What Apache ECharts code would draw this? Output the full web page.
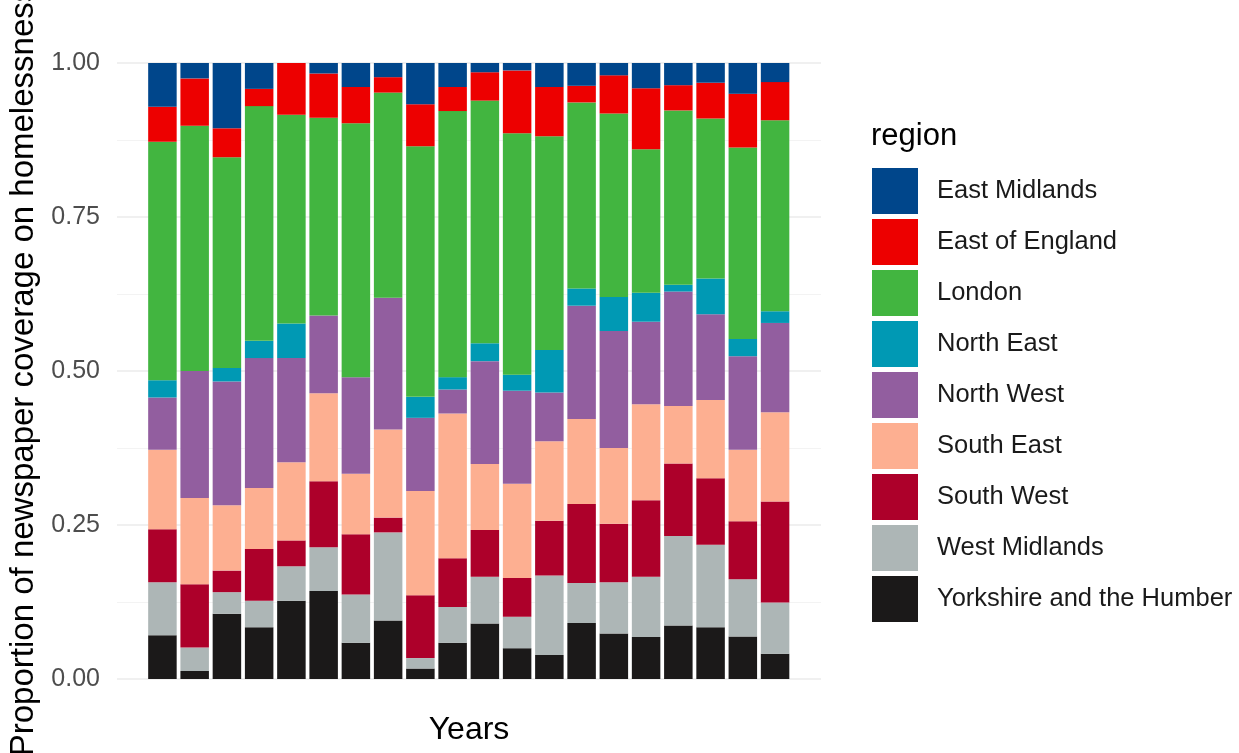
<!DOCTYPE html>
<html>
<head>
<meta charset="utf-8">
<script src="https://cdn.jsdelivr.net/npm/echarts@6/dist/echarts.min.js"></script>
<style>
html,body{margin:0;padding:0;background:#fff;}
#chart{width:1239px;height:753px;}
</style>
</head>
<body>
<div id="chart"></div>
<script>
// the 20 (unlabelled) year bars
const years = ["1","2","3","4","5","6","7","8","9","10","11","12","13","14","15","16","17","18","19","20"];

// proportions per region (bottom of stack first)
const yorkshire      = [0.071,0.013,0.106,0.084,0.127,0.143,0.059,0.095,0.017,0.059,0.090,0.050,0.039,0.091,0.074,0.068,0.087,0.084,0.069,0.041];
const westMidlands   = [0.086,0.038,0.035,0.043,0.056,0.071,0.078,0.143,0.017,0.058,0.076,0.051,0.129,0.065,0.083,0.098,0.145,0.134,0.093,0.083];
const southWest      = [0.086,0.103,0.035,0.084,0.042,0.107,0.098,0.024,0.102,0.079,0.076,0.063,0.089,0.128,0.095,0.124,0.118,0.108,0.094,0.164];
const southEast      = [0.129,0.140,0.106,0.099,0.127,0.143,0.098,0.143,0.169,0.235,0.107,0.153,0.129,0.138,0.123,0.156,0.093,0.127,0.116,0.145];
const northWest      = [0.085,0.206,0.201,0.211,0.169,0.126,0.157,0.214,0.119,0.039,0.167,0.151,0.079,0.184,0.190,0.134,0.186,0.139,0.152,0.145];
const northEast      = [0.028,0.000,0.022,0.028,0.056,0.000,0.000,0.000,0.034,0.020,0.029,0.026,0.069,0.028,0.055,0.047,0.011,0.058,0.028,0.019];
const london         = [0.387,0.398,0.342,0.381,0.339,0.321,0.412,0.333,0.407,0.432,0.394,0.392,0.347,0.302,0.298,0.233,0.283,0.260,0.311,0.310];
const eastOfEngland  = [0.057,0.077,0.047,0.028,0.084,0.072,0.059,0.025,0.068,0.039,0.046,0.102,0.080,0.027,0.062,0.099,0.041,0.058,0.087,0.062];
const eastMidlands   = [0.071,0.025,0.106,0.042,0.000,0.017,0.039,0.023,0.067,0.039,0.015,0.012,0.039,0.037,0.020,0.041,0.036,0.032,0.050,0.031];

const regionNames = ["East Midlands","East of England","London","North East","North West","South East","South West","West Midlands","Yorkshire and the Humber"];
const yTicks = [0, 0.25, 0.5, 0.75, 1];

const stackOrder = [
  ["Yorkshire and the Humber", yorkshire, "#1B1919"],
  ["West Midlands", westMidlands, "#ADB6B6"],
  ["South West", southWest, "#AD002A"],
  ["South East", southEast, "#FDAF91"],
  ["North West", northWest, "#925E9F"],
  ["North East", northEast, "#0099B4"],
  ["London", london, "#42B540"],
  ["East of England", eastOfEngland, "#ED0000"],
  ["East Midlands", eastMidlands, "#00468B"]
];

const FONT = "'Liberation Sans', Arial, sans-serif";
const yMin = yTicks[0], yMax = yTicks[yTicks.length - 1];
const chart = echarts.init(document.getElementById('chart'), null, {renderer:'canvas'});
chart.setOption({
  animation: false,
  backgroundColor: '#ffffff',
  title: {
    text: 'region', left: 866, top: 116,
    textStyle: {fontFamily: FONT, fontSize: 31, fontWeight: 'normal', color: '#000'}
  },
  legend: {
    orient: 'vertical', left: 867, top: 163,
    data: regionNames, icon: 'rect',
    itemWidth: 46, itemHeight: 46, itemGap: 5,
    textStyle: {fontFamily: FONT, fontSize: 25.5, color: '#1a1a1a', padding: [0,0,0,14]}
  },
  grid: [
    {left: 117, right: 418, top: 63, bottom: 74, containLabel: false, outerBoundsMode: 'none'},      // panel (gridlines, titles)
    {left: 146.3, right: 447.8, top: 63, bottom: 74, containLabel: false, outerBoundsMode: 'none'}   // bars
  ],
  xAxis: [
    {
      gridIndex: 0, type: 'value', min: 0, max: 1,
      name: 'Years', nameLocation: 'middle', nameGap: 35,
      nameTextStyle: {fontFamily: FONT, fontSize: 32, color: '#000'},
      axisLine: {show: false}, axisTick: {show: false}, axisLabel: {show: false},
      splitLine: {show: false}
    },
    {
      gridIndex: 1, type: 'category', data: years,
      axisLine: {show: false}, axisTick: {show: false}, axisLabel: {show: false},
      splitLine: {show: false}
    }
  ],
  yAxis: [
    {
      gridIndex: 0, type: 'value', min: yMin, max: yMax, interval: 0.25,
      name: 'Proportion of newspaper coverage on homelessness', nameLocation: 'middle', nameGap: 76,
      nameTextStyle: {fontFamily: FONT, fontSize: 33, color: '#000'},
      axisLine: {show: false}, axisTick: {show: false},
      axisLabel: {fontFamily: FONT, fontSize: 25, color: '#4d4d4d', margin: 17,
        formatter: v => v.toFixed(2)},
      splitLine: {lineStyle: {color: '#ebebeb', width: 1.6}},
      minorTick: {show: false, splitNumber: 2},
      minorSplitLine: {show: true, lineStyle: {color: '#f2f2f2', width: 0.9}}
    },
    {
      gridIndex: 1, type: 'value', min: yMin, max: yMax, interval: 0.25,
      axisLine: {show: false}, axisTick: {show: false}, axisLabel: {show: false},
      splitLine: {show: false}
    }
  ],
  series: stackOrder.map(([name, vals, color]) => ({
    name: name, type: 'bar', stack: 'total', barWidth: 28.5,
    xAxisIndex: 1, yAxisIndex: 1,
    itemStyle: {color: color},
    emphasis: {disabled: true},
    data: vals
  }))
});
</script>
</body>
</html>
